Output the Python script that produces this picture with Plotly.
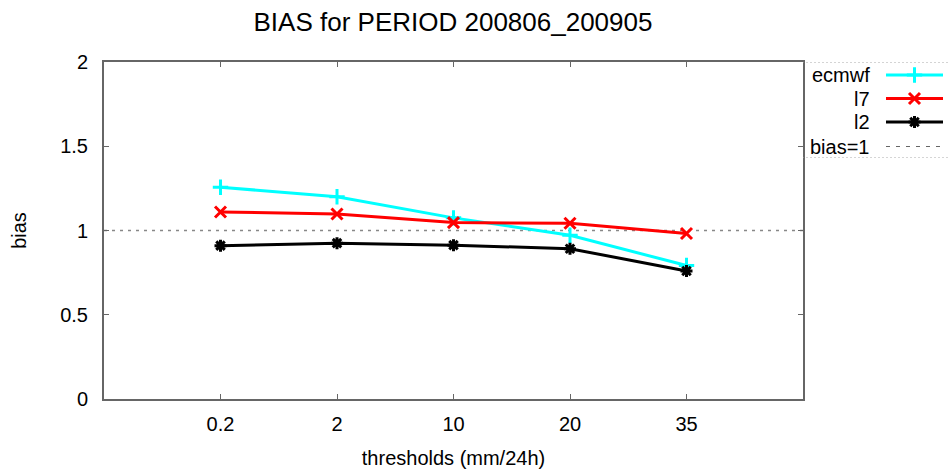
import plotly.graph_objects as go

# Verification scores (frequency bias) per precipitation threshold
thresholds = ["0.2", "2", "10", "20", "35"]
ecmwf = [1.257, 1.200, 1.075, 0.972, 0.792]
l7 = [1.110, 1.098, 1.047, 1.043, 0.982]
l2 = [0.910, 0.925, 0.913, 0.892, 0.760]
bias_ref = 1.0

series_names = ["ecmwf", "l7", "l2"]
series_values = [ecmwf, l7, l2]
series_colors = ["#00FFFF", "#FF0000", "#000000"]
series_symbols = ["cross-thin-open", "x-thin-open", "asterisk-open"]

FONT = "Liberation Sans, Arial, sans-serif"
xpos = list(range(1, len(thresholds) + 1))

fig = go.Figure()

# reference line bias = 1 across the whole axis
fig.add_trace(go.Scatter(
    x=[0, len(thresholds) + 1], y=[bias_ref, bias_ref], mode="lines",
    line=dict(color="#888888", width=1.6, dash="3px,5px"),
    showlegend=False, hoverinfo="skip"))

for name, vals, col, sym in zip(series_names, series_values, series_colors, series_symbols):
    fig.add_trace(go.Scatter(
        x=xpos, y=vals, mode="lines+markers", name=name,
        line=dict(color=col, width=3),
        marker=dict(symbol=sym, size=11 if sym != "asterisk-open" else 10,
                    color=col, line=dict(color=col, width=3)),
        showlegend=False))

# key box to the right of the plot, drawn on its own axes (pixel-like units)
key_rows = [75, 98.5, 122, 146.5]
key_text_x = 872
key_line = [886, 943]
for i, (name, col, sym) in enumerate(zip(series_names, series_colors, series_symbols)):
    y = key_rows[i]
    fig.add_trace(go.Scatter(
        x=key_line, y=[y, y], mode="lines", xaxis="x2", yaxis="y2",
        line=dict(color=col, width=3), showlegend=False, hoverinfo="skip"))
    fig.add_trace(go.Scatter(
        x=[sum(key_line) / 2], y=[y], mode="markers", xaxis="x2", yaxis="y2",
        marker=dict(symbol=sym, size=11 if sym != "asterisk-open" else 10,
                    color=col, line=dict(color=col, width=3)),
        showlegend=False, hoverinfo="skip"))
    fig.add_annotation(x=key_text_x, y=y, xref="x2", yref="y2", text=name,
                       showarrow=False, xanchor="right", yanchor="middle",
                       font=dict(family=FONT, size=20, color="black"))
fig.add_trace(go.Scatter(
    x=key_line, y=[key_rows[3]] * 2, mode="lines", xaxis="x2", yaxis="y2",
    line=dict(color="#666666", width=1, dash="4px,6px"),
    showlegend=False, hoverinfo="skip"))
fig.add_annotation(x=key_text_x, y=key_rows[3], xref="x2", yref="y2", text="bias=1",
                   showarrow=False, xanchor="right", yanchor="middle",
                   font=dict(family=FONT, size=20, color="black"))
for yb in (62, 158):
    fig.add_shape(type="line", xref="x2", yref="y2", x0=802, x1=948, y0=yb, y1=yb,
                  line=dict(color="#aaaaaa", width=1, dash="2px,2px"))

main_right = 699 / 844
fig.update_layout(
    width=948, height=472,
    margin=dict(l=104, r=0, t=62, b=73),
    paper_bgcolor="white", plot_bgcolor="white",
    font=dict(family=FONT, size=20, color="black"),
    title=dict(text="BIAS for PERIOD 200806_200905", x=453 / 948, xanchor="center",
               y=1 - 22 / 472, yanchor="middle",
               font=dict(family=FONT, size=26, color="black")),
    xaxis=dict(domain=[0, main_right], range=[0, len(thresholds) + 1],
               tickvals=xpos, ticktext=thresholds,
               ticks="inside", ticklen=5, tickwidth=1, tickcolor="#666666",
               showline=True, linecolor="#666666", linewidth=2, mirror="ticks",
               showgrid=False, zeroline=False, ticklabelstandoff=6,
               title=dict(text="thresholds (mm/24h)", standoff=17,
                          font=dict(family=FONT, size=20))),
    yaxis=dict(range=[0, 2], tickvals=[0, 0.5, 1, 1.5, 2],
               ticktext=["0", "0.5", "1", "1.5", "2"],
               ticks="inside", ticklen=5, tickwidth=1, tickcolor="#666666",
               showline=True, linecolor="#666666", linewidth=2, mirror="ticks",
               showgrid=False, zeroline=False, ticklabelstandoff=10,
               title=dict(text="bias", standoff=28, font=dict(family=FONT, size=20))),
    xaxis2=dict(domain=[main_right, 1], range=[803, 948], visible=False, fixedrange=True),
    yaxis2=dict(domain=[(399 - 158) / 337, 1], range=[158, 62], visible=False,
                anchor="x2", fixedrange=True),
)

fig.write_html("out.html")
